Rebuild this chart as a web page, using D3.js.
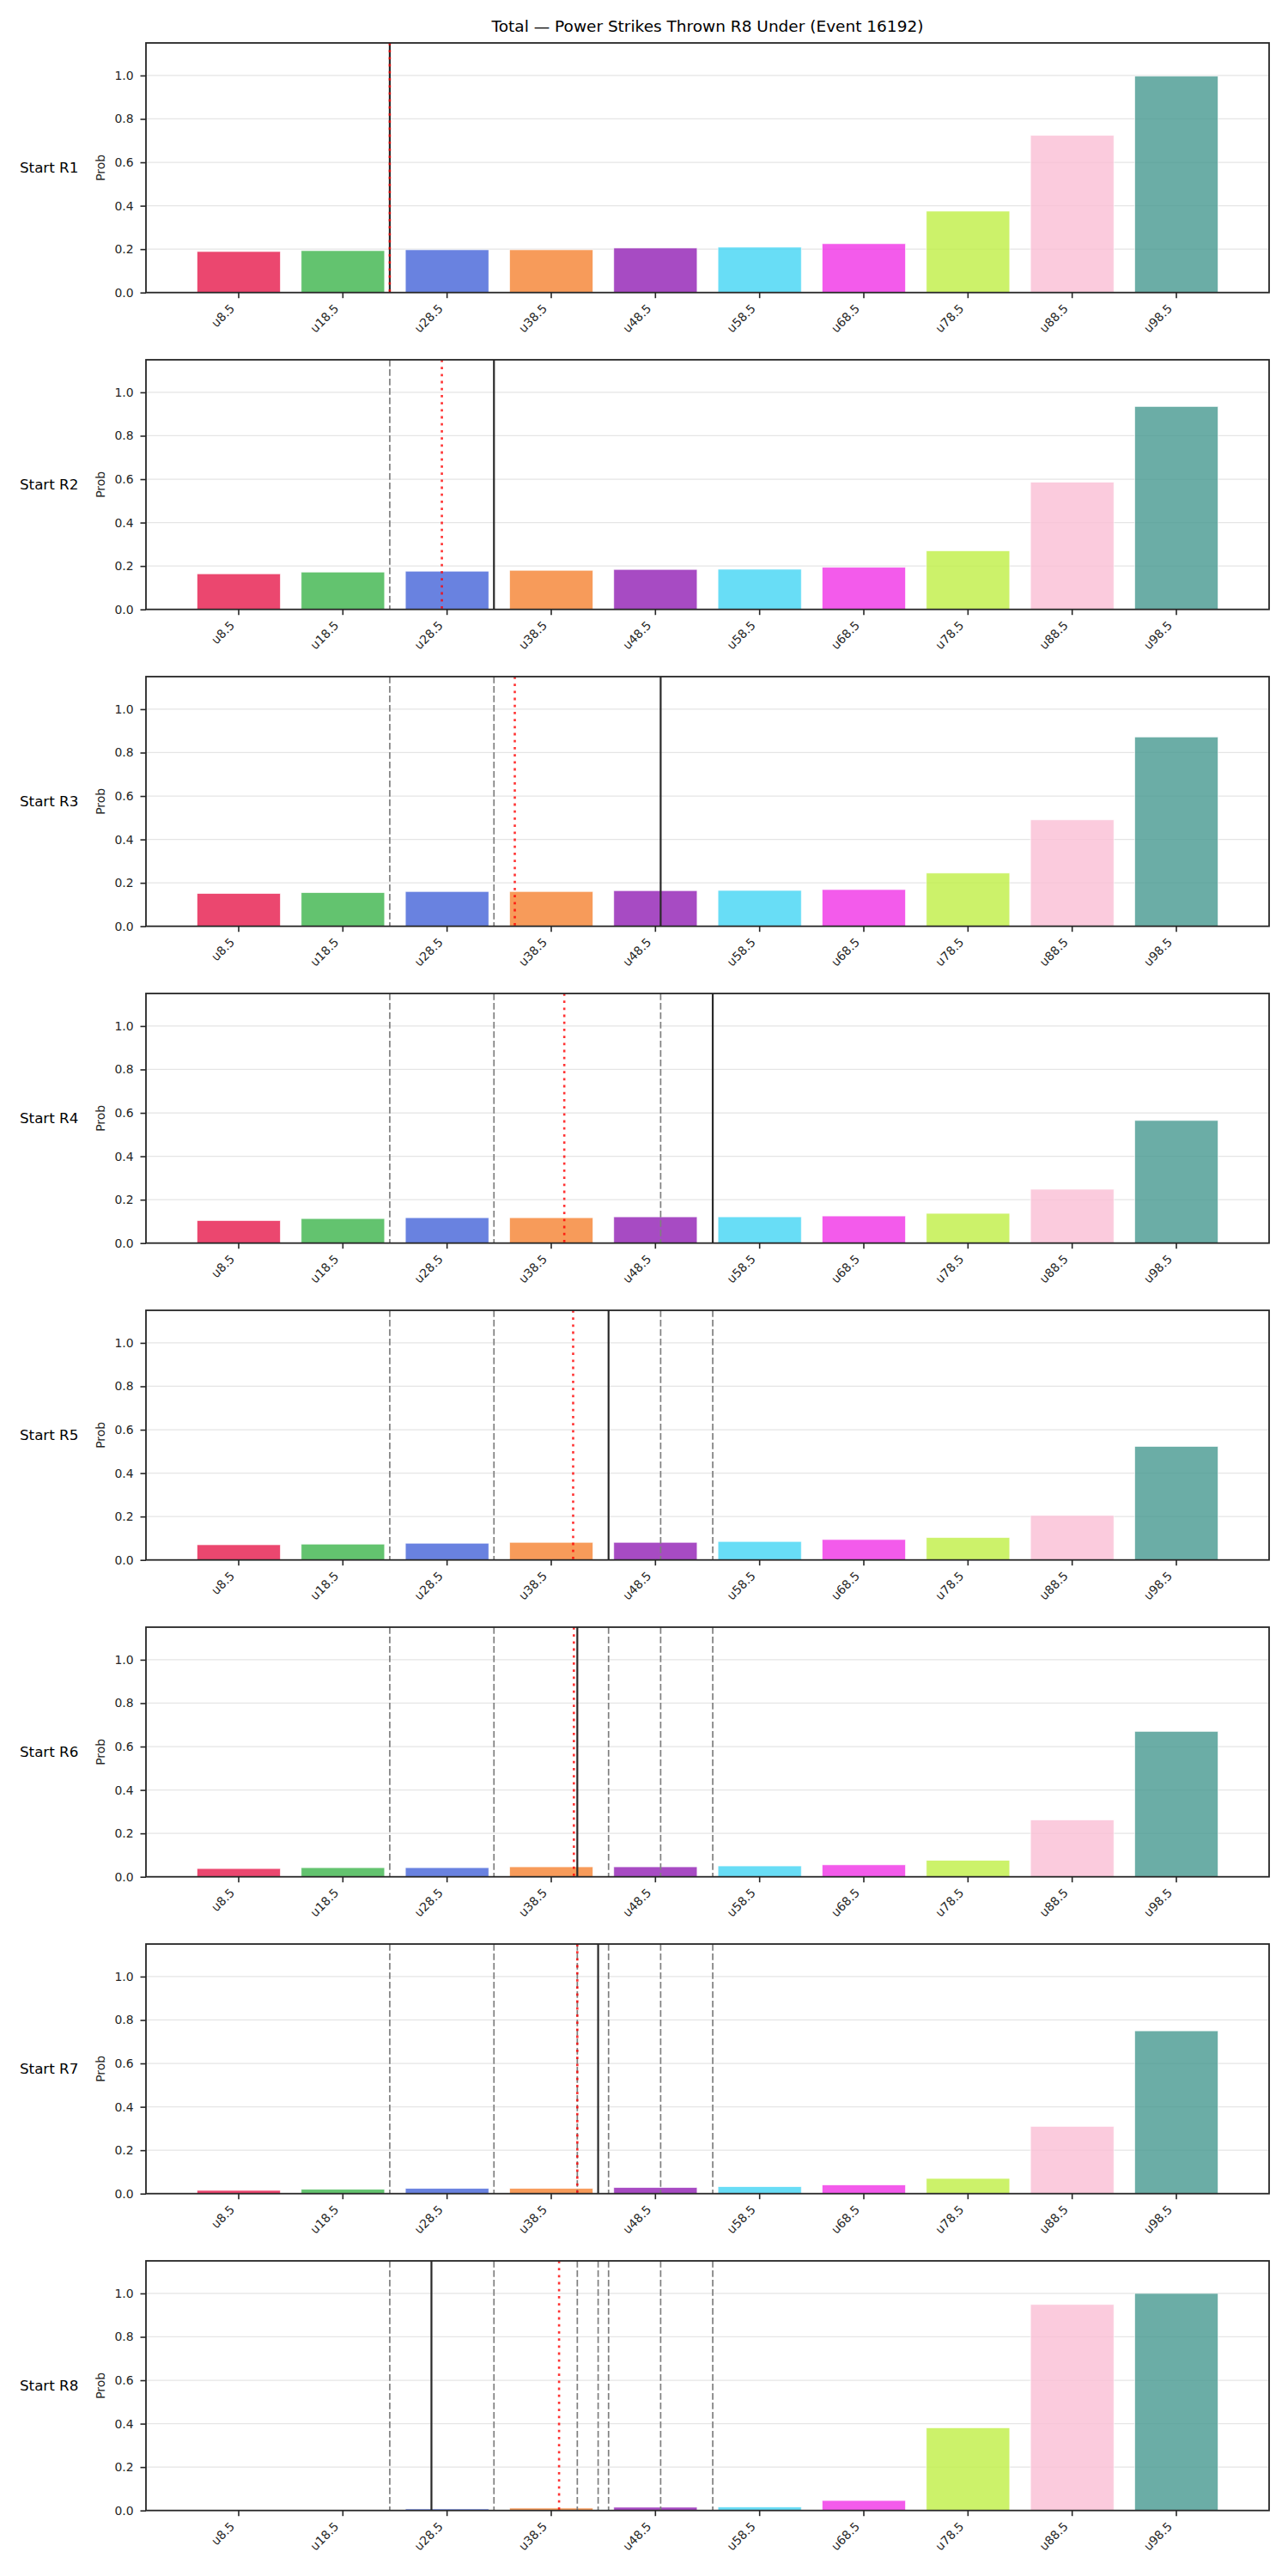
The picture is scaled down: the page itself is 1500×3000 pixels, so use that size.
<!DOCTYPE html>
<html>
<head>
<meta charset="utf-8">
<script src="https://cdn.jsdelivr.net/npm/d3@7"></script>
<style>
  body { margin: 0; background: #fff; }
  svg { display: block; font-family: "DejaVu Sans", sans-serif; }
</style>
</head>
<body>
<svg id="chart"></svg>
<script>
// ---- data ----
const categories = ['u8.5', 'u18.5', 'u28.5', 'u38.5', 'u48.5', 'u58.5', 'u68.5', 'u78.5', 'u88.5', 'u98.5'];
const lineStrikes = [8.5, 18.5, 28.5, 38.5, 48.5, 58.5, 68.5, 78.5, 88.5, 98.5];
const rounds = ['Start R1', 'Start R2', 'Start R3', 'Start R4', 'Start R5', 'Start R6', 'Start R7', 'Start R8'];

const probR1 = [0.189, 0.193, 0.197, 0.197, 0.205, 0.209, 0.225, 0.375, 0.724, 0.997];
const probR2 = [0.164, 0.172, 0.176, 0.180, 0.184, 0.185, 0.194, 0.270, 0.586, 0.935];
const probR3 = [0.151, 0.155, 0.160, 0.160, 0.164, 0.165, 0.169, 0.245, 0.490, 0.872];
const probR4 = [0.104, 0.113, 0.117, 0.117, 0.121, 0.121, 0.125, 0.137, 0.248, 0.565];
const probR5 = [0.070, 0.073, 0.077, 0.081, 0.081, 0.085, 0.094, 0.103, 0.205, 0.523];
const probR6 = [0.038, 0.042, 0.042, 0.046, 0.046, 0.050, 0.055, 0.076, 0.262, 0.670];
const probR7 = [0.015, 0.020, 0.024, 0.024, 0.028, 0.032, 0.040, 0.070, 0.310, 0.750];
const probR8 = [0.000, 0.002, 0.007, 0.011, 0.015, 0.016, 0.046, 0.381, 0.949, 1.000];
const probs = [probR1, probR2, probR3, probR4, probR5, probR6, probR7, probR8];

// black solid = that round's strikes, red dotted = running mean, grey dashed = earlier rounds
const roundStrikes = [23, 33, 49, 54, 44, 41, 43, 27];
const runningMean = [23, 28, 35, 39.75, 40.6, 40.67, 41.0, 39.25];

const barColors = ['#e6194b', '#3cb44b', '#4363d8', '#f58231', '#911eb4', '#42d4f4', '#f032e6', '#bfef45', '#fabed4', '#469990'];
const yTicks = [0, 0.2, 0.4, 0.6, 0.8, 1.0];

// ---- layout ----
const W = 1500, H = 3000;
const plot = { left: 170, right: 1478, top: 50, h: 290.7, gap: 369 };
const ink = '#262626';

const $svg = d3.select('#chart')
  .attr('width', W)
  .attr('height', H)
  .attr('viewBox', '0 0 ' + W + ' ' + H);

$svg.append('text')
  .text('Total \u2014 Power Strikes Thrown R8 Under (Event 16192)')
  .attr('x', (plot.left + plot.right) / 2)
  .attr('y', 37)
  .attr('text-anchor', 'middle')
  .attr('font-size', 18.5)
  .attr('fill', '#000');

const xBand = d3.scaleBand()
  .domain(categories)
  .range([plot.left, plot.right])
  .paddingInner(0.2)
  .paddingOuter(0.49);
const center = (c) => xBand(c) + xBand.bandwidth() / 2;
const xStrike = d3.scaleLinear()
  .domain([lineStrikes[0], lineStrikes[lineStrikes.length - 1]])
  .range([center(categories[0]), center(categories[categories.length - 1])]);

rounds.forEach((label, r) => {
  const top = plot.top + r * plot.gap,
    bottom = top + plot.h;
  const y = d3.scaleLinear().domain([0, 1.15]).range([bottom, top]);
  const g = $svg.append('g').attr('class', 'panel');

  // grid
  g.selectAll('line.grid')
    .data(yTicks.slice(1))
    .enter()
    .append('line')
    .attr('class', 'grid')
    .attr('x1', plot.left)
    .attr('x2', plot.right)
    .attr('y1', (d) => y(d))
    .attr('y2', (d) => y(d))
    .attr('stroke', '#e5e5e5')
    .attr('stroke-width', 1.2);

  // bars
  g.selectAll('rect.bar')
    .data(probs[r])
    .enter()
    .append('rect')
    .attr('class', 'bar')
    .attr('x', (d, i) => xBand(categories[i]))
    .attr('width', xBand.bandwidth())
    .attr('y', (d) => y(d))
    .attr('height', (d) => y(0) - y(d))
    .attr('fill', (d, i) => barColors[i])
    .attr('fill-opacity', 0.8)
    .attr('stroke', '#fff')
    .attr('stroke-opacity', 0.8)
    .attr('stroke-width', 0.8);

  // earlier rounds
  g.selectAll('line.prev')
    .data(roundStrikes.slice(0, r))
    .enter()
    .append('line')
    .attr('class', 'prev')
    .attr('x1', (d) => xStrike(d))
    .attr('x2', (d) => xStrike(d))
    .attr('y1', top)
    .attr('y2', bottom)
    .attr('stroke', '#7f7f7f')
    .attr('stroke-width', 1.7)
    .attr('stroke-dasharray', '7.7 3.3');

  g.append('line')
    .attr('x1', xStrike(roundStrikes[r]))
    .attr('x2', xStrike(roundStrikes[r]))
    .attr('y1', top)
    .attr('y2', bottom)
    .attr('stroke', '#2a2a2a')
    .attr('stroke-width', 2.2);

  g.append('line')
    .attr('x1', xStrike(runningMean[r]))
    .attr('x2', xStrike(runningMean[r]))
    .attr('y1', top)
    .attr('y2', bottom)
    .attr('stroke', 'red')
    .attr('stroke-opacity', 0.8)
    .attr('stroke-width', 2.6)
    .attr('stroke-dasharray', '2.8 5.4');

  // axes
  const yAxis = g.append('g')
    .attr('transform', 'translate(' + plot.left + ',0)')
    .call(d3.axisLeft(y).tickValues(yTicks).tickFormat(d3.format('.1f')).tickSize(6.5).tickPadding(8));
  const xAxis = g.append('g')
    .attr('transform', 'translate(0,' + bottom + ')')
    .call(d3.axisBottom(xBand).tickSize(6.5).tickSizeOuter(0));
  [yAxis, xAxis].forEach((a) => {
    a.select('.domain').remove();
    a.selectAll('line').attr('stroke', ink).attr('stroke-width', 1.6);
    a.selectAll('text').attr('fill', ink).attr('font-size', 13.9).attr('font-family', '"DejaVu Sans", sans-serif');
  });
  xAxis.selectAll('text')
    .attr('text-anchor', 'end')
    .attr('y', 0)
    .attr('dy', '0.76em')
    .attr('transform', 'translate(-11.5,12) rotate(-45)');

  // frame
  g.append('rect')
    .attr('x', plot.left)
    .attr('y', top)
    .attr('width', plot.right - plot.left)
    .attr('height', plot.h)
    .attr('fill', 'none')
    .attr('stroke', ink)
    .attr('stroke-width', 1.8);

  g.append('text')
    .text('Prob')
    .attr('text-anchor', 'middle')
    .attr('font-size', 13.9)
    .attr('fill', ink)
    .attr('transform', 'translate(122,' + (top + plot.h / 2) + ') rotate(-90)');

  g.append('text')
    .text(label)
    .attr('x', 23)
    .attr('y', top + plot.h / 2 + 6)
    .attr('font-size', 16.7)
    .attr('fill', '#000');
});
</script>
</body>
</html>
